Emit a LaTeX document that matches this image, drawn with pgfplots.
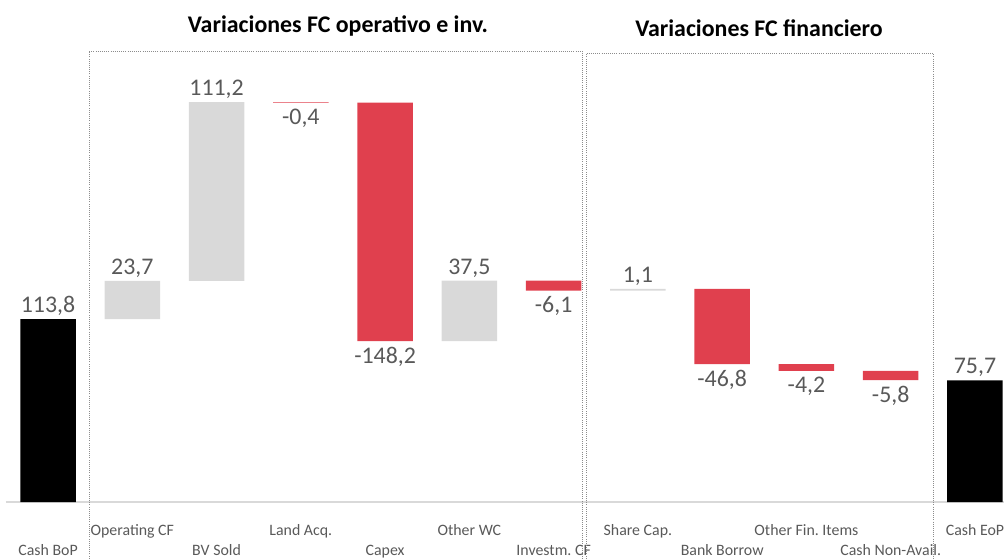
\documentclass[border=0pt]{standalone}
\usepackage{fontspec}
\setmainfont{Carlito}
\usepackage{pgfplots}
\usepackage{pgfplotstable}
\pgfplotsset{compat=1.18}
\frenchspacing
\definecolor{wfred}{RGB}{224,64,78}
\definecolor{wfgray}{RGB}{217,217,217}
\definecolor{txtgray}{RGB}{89,89,89}
\definecolor{boxgray}{RGB}{140,140,140}

\pgfplotstableread{
x base total up down
0 0 113.8 0 0
1 113.8 0 23.7 0
2 137.5 0 111.2 0
3 248.3 0 0 0.4
4 100.1 0 0 148.2
5 100.1 0 37.5 0
6 131.5 0 0 6.1
7 131.5 0 1.1 0
8 85.8 0 0 46.8
9 81.6 0 0 4.2
10 75.8 0 0 5.8
11 0 75.7 0 0
}\bars

\pgfplotstableread{
x y lab
0 113.8 113,8
1 137.5 23,7
2 248.7 111,2
5 137.6 37,5
7 132.6 1,1
11 75.7 75,7
}\above

\pgfplotstableread{
x y lab
3 248.3 -0,4
4 100.1 -148,2
6 131.5 -6,1
8 85.8 -46,8
9 81.6 -4,2
10 75.8 -5,8
}\below

\begin{document}
\begin{tikzpicture}
\useasboundingbox (0,0) rectangle (753pt,418.5pt);
\clip (0,0) rectangle (753pt,418.5pt);
\pgfplotsset{common/.style={at={(4.43pt,42pt)}, anchor=south west, scale only axis,
  width=758.4pt, height=361.8pt, xmin=-0.5, xmax=11.5, ymin=0, ymax=300}}
\begin{axis}[common, ybar stacked, bar width=41.6pt,
  axis x line=bottom, axis y line=none,
  x axis line style={-, draw=wfgray, line width=1.1pt},
  xtick={1,3,5,7,9,11},
  xticklabels={Operating CF, Land Acq., Other WC, Share Cap., Other Fin.\ Items, Cash EoP},
  extra x ticks={0,2,4,6,8,10},
  extra x tick labels={Cash BoP, BV Sold, Capex, Investm.\ CF, Bank Borrow, Cash Non-Avail.},
  extra x tick style={grid=none, xticklabel style={yshift=-15pt}},
  major tick length=0pt,
  xticklabel style={anchor=base, yshift=-24.75pt, font=\fontsize{11.9}{14}\selectfont, text=txtgray}]
\addplot[draw=none, fill=none] table[x=x,y=base]{\bars};
\addplot[draw=none, fill=black] table[x=x,y=total]{\bars};
\addplot[draw=none, fill=wfgray] table[x=x,y=up]{\bars};
\addplot[draw=none, fill=wfred] table[x=x,y=down]{\bars};
\end{axis}
\begin{axis}[common, hide axis, clip=false, point meta=explicit symbolic]
\addplot[draw=none, mark=none, nodes near coords,
  every node near coord/.append style={font=\fontsize{17.9}{20}\selectfont, text=txtgray, inner sep=0pt, anchor=base, yshift=4.9pt}]
  table[x=x,y=y,meta=lab]{\above};
\addplot[draw=none, mark=none, nodes near coords,
  every node near coord/.append style={font=\fontsize{17.9}{20}\selectfont, text=txtgray, inner sep=0pt, anchor=base, yshift=-16.6pt}]
  table[x=x,y=y,meta=lab]{\below};
\end{axis}
\draw[boxgray, densely dotted, line width=0.6pt] (66.75pt,-10pt) -- (66.75pt,380.25pt) -- (436.9pt,380.25pt) -- (436.9pt,-10pt);
\draw[boxgray, densely dotted, line width=0.6pt] (439.9pt,-10pt) -- (439.9pt,378.75pt) -- (699.75pt,378.75pt) -- (699.75pt,-10pt);
\node[anchor=base, font=\fontsize{17.9}{20}\selectfont\bfseries] at (253.5pt,393.75pt) {Variaciones FC operativo e inv.};
\node[anchor=base, font=\fontsize{17.9}{20}\selectfont\bfseries] at (569.25pt,390.75pt) {Variaciones FC financiero};
\end{tikzpicture}
\end{document}
